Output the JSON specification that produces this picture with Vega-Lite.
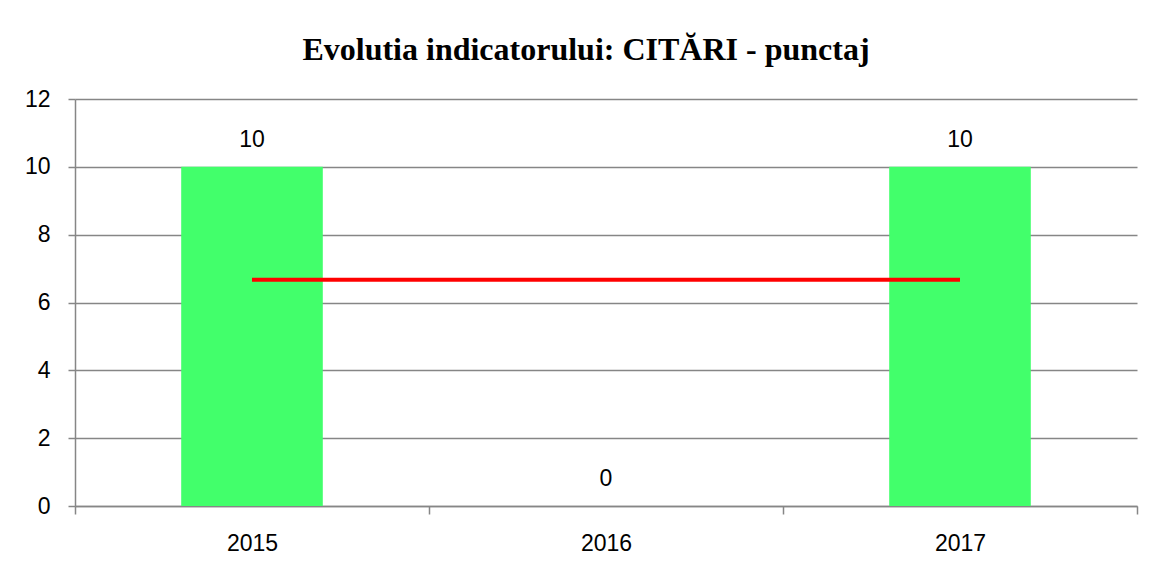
{
  "$schema": "https://vega.github.io/schema/vega-lite/v6.json",
  "autosize": {"type": "none"},
  "width": 1062,
  "height": 407,
  "padding": {"left": 75, "top": 99, "right": 19, "bottom": 61},
  "background": "white",
  "title": {
    "text": "Evolutia indicatorului: CITĂRI - punctaj",
    "font": "Liberation Serif",
    "fontSize": 32,
    "fontWeight": "bold",
    "color": "black",
    "anchor": "middle",
    "frame": "group",
    "baseline": "alphabetic",
    "offset": -4,
    "dx": -20
  },
  "config": {
    "view": {"stroke": null},
    "axis": {
      "labelFont": "Liberation Sans",
      "labelFontSize": 23,
      "labelColor": "black",
      "domainColor": "#868686",
      "tickColor": "#868686",
      "gridColor": "#868686",
      "domainWidth": 1.5,
      "tickWidth": 1.5,
      "gridWidth": 1.5
    }
  },
  "data": {
    "values": [
      {"an": "2015", "punctaj": 10, "medie": 6.67},
      {"an": "2016", "punctaj": 0, "medie": 6.67},
      {"an": "2017", "punctaj": 10, "medie": 6.67}
    ]
  },
  "encoding": {
    "x": {
      "field": "an",
      "type": "ordinal",
      "scale": {"paddingInner": 0, "paddingOuter": 0},
      "axis": {
        "title": null,
        "labelAngle": 0,
        "tickBand": "extent",
        "tickSize": 8,
        "labelPadding": 18,
        "grid": false
      }
    }
  },
  "layer": [
    {
      "mark": {"type": "bar", "color": "#42FF6B", "width": {"band": 0.4}},
      "encoding": {
        "y": {
          "field": "punctaj",
          "type": "quantitative",
          "scale": {"domain": [0, 12], "nice": false},
          "axis": {
            "title": null,
            "values": [0, 2, 4, 6, 8, 10, 12],
            "grid": true,
            "tickSize": 7,
            "labelPadding": 18
          }
        }
      }
    },
    {
      "mark": {"type": "text", "baseline": "alphabetic", "dy": -20, "font": "Liberation Sans", "fontSize": 23, "color": "black"},
      "encoding": {
        "y": {"field": "punctaj", "type": "quantitative"},
        "text": {"field": "punctaj", "type": "quantitative"}
      }
    },
    {
      "mark": {"type": "line", "color": "#FF0000", "strokeWidth": 4},
      "encoding": {
        "y": {"field": "medie", "type": "quantitative"}
      }
    }
  ]
}
